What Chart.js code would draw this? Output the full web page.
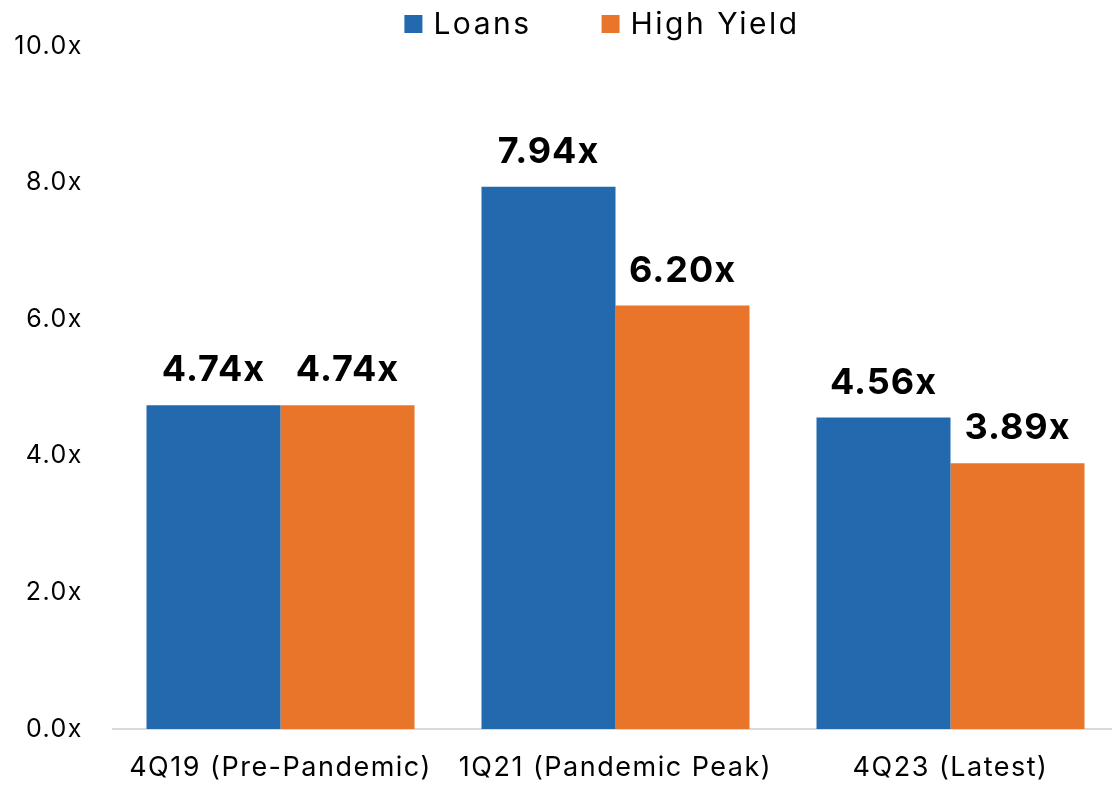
<!DOCTYPE html>
<html>
<head>
<meta charset="utf-8">
<script src="https://cdn.jsdelivr.net/npm/chart.js@4.4.1/dist/chart.umd.min.js"></script>
<style>
  html, body { margin: 0; padding: 0; background: #fff; overflow: hidden; }
  #wrap { width: 1118px; height: 786px; }
</style>
</head>
<body>
<div id="wrap"><canvas id="chart"></canvas></div>
<script>
var periods = ['4Q19 (Pre-Pandemic)', '1Q21 (Pandemic Peak)', '4Q23 (Latest)'];
var loans = [4.74, 7.94, 4.56];
var highYield = [4.74, 6.20, 3.89];
var seriesNames = ['Loans', 'High Yield'];
var seriesColors = ['#2369ae', '#e87529'];
var yTicks = [0, 2, 4, 6, 8, 10];

var FONT = 'Inter, "Open Sans", sans-serif';

// the source font is wide, so space the letters out a bit
var spacing = {
  id: 'spacing',
  beforeInit: function(chart) { chart.ctx.letterSpacing = '1.5px'; },
  beforeUpdate: function(chart) { chart.ctx.letterSpacing = '1.5px'; },
  beforeDraw: function(chart) { chart.ctx.letterSpacing = '1.5px'; }
};

// legend row at the top: square + name, wide gap between items
var topLegend = {
  id: 'topLegend',
  afterDraw: function(chart) {
    var ctx = chart.ctx;
    ctx.save();
    ctx.letterSpacing = '2.5px';
    ctx.font = '30px ' + FONT;
    ctx.textBaseline = 'middle';
    ctx.textAlign = 'left';
    var box = 18, gap = 11, itemGap = 70, cy = 24;
    var widths = chart.data.datasets.map(function(ds) { return ctx.measureText(ds.label).width; });
    var total = 0;
    widths.forEach(function(w, i) { total += box + gap + w + (i ? itemGap : 0); });
    var x = 602 - total / 2;
    chart.data.datasets.forEach(function(ds, i) {
      ctx.fillStyle = ds.backgroundColor;
      ctx.fillRect(x, cy - box / 2, box, box);
      ctx.fillStyle = '#000';
      ctx.fillText(ds.label, x + box + gap, cy + 1);
      x += box + gap + widths[i] + itemGap;
    });
    ctx.restore();
  }
};

// bold value labels above each bar
var barLabels = {
  id: 'barLabels',
  afterDatasetsDraw: function(chart) {
    var ctx = chart.ctx;
    ctx.save();
    ctx.letterSpacing = '1px';
    ctx.font = 'bold 36px ' + FONT;
    ctx.fillStyle = '#000';
    ctx.textAlign = 'center';
    ctx.textBaseline = 'alphabetic';
    chart.data.datasets.forEach(function(ds, i) {
      var meta = chart.getDatasetMeta(i);
      meta.data.forEach(function(bar, j) {
        ctx.fillText(ds.data[j].toFixed(2) + 'x', bar.x, bar.y - 24);
      });
    });
    ctx.restore();
  }
};

new Chart(document.getElementById('chart'), {
  type: 'bar',
  data: {
    labels: periods,
    datasets: [
      { label: seriesNames[0], data: loans, backgroundColor: seriesColors[0] },
      { label: seriesNames[1], data: highYield, backgroundColor: seriesColors[1] }
    ]
  },
  options: {
    responsive: true,
    maintainAspectRatio: false,
    animation: false,
    devicePixelRatio: 1,
    layout: { padding: { left: 0, right: 0, top: 46, bottom: 0 } },
    datasets: { bar: { categoryPercentage: 0.8, barPercentage: 1.0 } },
    plugins: {
      legend: { display: false },
      tooltip: { enabled: false }
    },
    scales: {
      x: {
        grid: { display: false },
        border: { display: true, color: '#d9d9d9', width: 2 },
        ticks: { color: '#000', padding: 15, font: { family: FONT, size: 27 } },
        afterFit: function(s) { s.height = 57; }
      },
      y: {
        min: 0,
        max: 10,
        grid: { display: false },
        border: { display: false },
        afterBuildTicks: function(s) { s.ticks = yTicks.map(function(v) { return { value: v }; }); },
        ticks: {
          color: '#000',
          padding: 22,
          font: { family: FONT, size: 25 },
          callback: function(v) { return v.toFixed(1) + 'x'; }
        },
        afterFit: function(s) { s.width = 113; }
      }
    }
  },
  plugins: [spacing, barLabels, topLegend]
});
</script>
</body>
</html>
